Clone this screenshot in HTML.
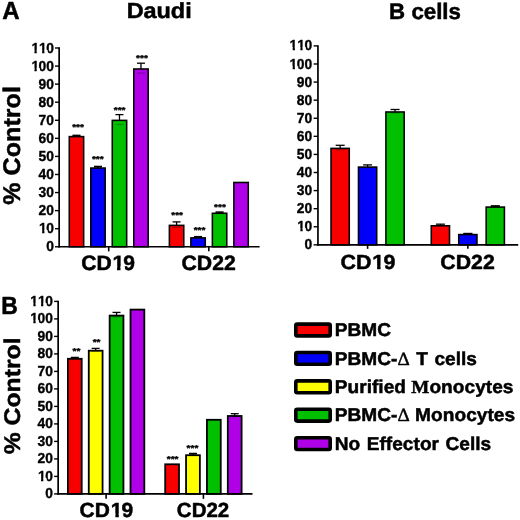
<!DOCTYPE html>
<html><head><meta charset="utf-8"><style>
html,body{margin:0;padding:0;background:#fff;}
svg{display:block;will-change:transform;}
text{font-family:"Liberation Sans",sans-serif;font-weight:bold;font-kerning:none;text-rendering:geometricPrecision;white-space:pre;}
</style></head><body>
<svg width="520" height="520" viewBox="0 0 520 520">
<rect width="520" height="520" fill="#fff"/>
<line x1="59.15" y1="47.30" x2="59.15" y2="247.62" stroke="#000" stroke-width="1.7"/>
<line x1="55.00" y1="246.77" x2="59.15" y2="246.77" stroke="#000" stroke-width="1.4"/>
<g transform="translate(46.267,251.000) scale(0.119375,0.125000)"><text x="0" y="0" font-size="116.000" stroke="#000" stroke-width="2.864" stroke-linejoin="round"><tspan>0</tspan></text>
</g>
<line x1="55.00" y1="228.70" x2="59.15" y2="228.70" stroke="#000" stroke-width="1.4"/>
<g transform="translate(38.565,233.000) scale(0.119375,0.125000)"><text x="0" y="0" font-size="116.000" stroke="#000" stroke-width="2.864" stroke-linejoin="round"><tspan dx="4.531">1</tspan><tspan dx="-4.531">0</tspan></text>
<rect x="1.21" y="-22.47" width="28.73" height="33.10" fill="#fff"/>
<rect x="49.19" y="-22.47" width="27.25" height="33.10" fill="#fff"/>
</g>
<line x1="55.00" y1="210.63" x2="59.15" y2="210.63" stroke="#000" stroke-width="1.4"/>
<g transform="translate(38.565,215.000) scale(0.119375,0.125000)"><text x="0" y="0" font-size="116.000" stroke="#000" stroke-width="2.864" stroke-linejoin="round"><tspan>20</tspan></text>
</g>
<line x1="55.00" y1="192.56" x2="59.15" y2="192.56" stroke="#000" stroke-width="1.4"/>
<g transform="translate(38.565,197.000) scale(0.119375,0.125000)"><text x="0" y="0" font-size="116.000" stroke="#000" stroke-width="2.864" stroke-linejoin="round"><tspan>30</tspan></text>
</g>
<line x1="55.00" y1="174.49" x2="59.15" y2="174.49" stroke="#000" stroke-width="1.4"/>
<g transform="translate(38.565,179.000) scale(0.119375,0.125000)"><text x="0" y="0" font-size="116.000" stroke="#000" stroke-width="2.864" stroke-linejoin="round"><tspan>40</tspan></text>
</g>
<line x1="55.00" y1="156.42" x2="59.15" y2="156.42" stroke="#000" stroke-width="1.4"/>
<g transform="translate(38.565,161.000) scale(0.119375,0.125000)"><text x="0" y="0" font-size="116.000" stroke="#000" stroke-width="2.864" stroke-linejoin="round"><tspan>50</tspan></text>
</g>
<line x1="55.00" y1="138.35" x2="59.15" y2="138.35" stroke="#000" stroke-width="1.4"/>
<g transform="translate(38.565,143.000) scale(0.119375,0.125000)"><text x="0" y="0" font-size="116.000" stroke="#000" stroke-width="2.864" stroke-linejoin="round"><tspan>60</tspan></text>
</g>
<line x1="55.00" y1="120.28" x2="59.15" y2="120.28" stroke="#000" stroke-width="1.4"/>
<g transform="translate(38.565,125.000) scale(0.119375,0.125000)"><text x="0" y="0" font-size="116.000" stroke="#000" stroke-width="2.864" stroke-linejoin="round"><tspan>70</tspan></text>
</g>
<line x1="55.00" y1="102.21" x2="59.15" y2="102.21" stroke="#000" stroke-width="1.4"/>
<g transform="translate(38.565,107.000) scale(0.119375,0.125000)"><text x="0" y="0" font-size="116.000" stroke="#000" stroke-width="2.864" stroke-linejoin="round"><tspan>80</tspan></text>
</g>
<line x1="55.00" y1="84.14" x2="59.15" y2="84.14" stroke="#000" stroke-width="1.4"/>
<g transform="translate(38.565,89.000) scale(0.119375,0.125000)"><text x="0" y="0" font-size="116.000" stroke="#000" stroke-width="2.864" stroke-linejoin="round"><tspan>90</tspan></text>
</g>
<line x1="55.00" y1="66.07" x2="59.15" y2="66.07" stroke="#000" stroke-width="1.4"/>
<g transform="translate(30.864,71.000) scale(0.119375,0.125000)"><text x="0" y="0" font-size="116.000" stroke="#000" stroke-width="2.864" stroke-linejoin="round"><tspan dx="4.531">1</tspan><tspan dx="-4.531">00</tspan></text>
<rect x="1.21" y="-22.47" width="28.73" height="33.10" fill="#fff"/>
<rect x="49.19" y="-22.47" width="27.25" height="33.10" fill="#fff"/>
</g>
<line x1="55.00" y1="48.00" x2="59.15" y2="48.00" stroke="#000" stroke-width="1.4"/>
<g transform="translate(30.864,53.000) scale(0.119375,0.125000)"><text x="0" y="0" font-size="116.000" stroke="#000" stroke-width="2.864" stroke-linejoin="round"><tspan dx="4.531">1</tspan><tspan>1</tspan><tspan dx="-4.531">0</tspan></text>
<rect x="1.21" y="-22.47" width="28.73" height="33.10" fill="#fff"/>
<rect x="49.19" y="-22.47" width="27.25" height="33.10" fill="#fff"/>
<rect x="65.72" y="-22.47" width="28.73" height="33.10" fill="#fff"/>
<rect x="113.71" y="-22.47" width="27.25" height="33.10" fill="#fff"/>
</g>
<line x1="58.30" y1="246.77" x2="259.60" y2="246.77" stroke="#000" stroke-width="1.7"/>
<line x1="76.47" y1="135.28" x2="76.47" y2="136.36" stroke="#000" stroke-width="1.3"/>
<line x1="72.47" y1="135.28" x2="80.47" y2="135.28" stroke="#000" stroke-width="1.3"/>
<line x1="72.47" y1="136.36" x2="80.47" y2="136.36" stroke="#000" stroke-width="1.3"/>
<rect x="69.28" y="136.60" width="14.39" height="110.17" fill="#f80000" stroke="#000" stroke-width="1.55"/>
<line x1="72.47" y1="136.36" x2="80.47" y2="136.36" stroke="#000" stroke-opacity="0.25" stroke-width="1.3"/>
<g transform="translate(72.223,130.000) scale(0.125000,0.106250)"><text x="0" y="0" font-size="80.000" stroke="#000" stroke-width="3.892" stroke-linejoin="round"><tspan>***</tspan></text>
</g>
<line x1="97.97" y1="166.36" x2="97.97" y2="168.17" stroke="#000" stroke-width="1.3"/>
<line x1="93.97" y1="166.36" x2="101.97" y2="166.36" stroke="#000" stroke-width="1.3"/>
<line x1="93.97" y1="168.17" x2="101.97" y2="168.17" stroke="#000" stroke-width="1.3"/>
<rect x="90.78" y="168.04" width="14.39" height="78.73" fill="#0000fa" stroke="#000" stroke-width="1.55"/>
<line x1="93.97" y1="168.17" x2="101.97" y2="168.17" stroke="#000" stroke-opacity="0.25" stroke-width="1.3"/>
<g transform="translate(91.923,162.000) scale(0.125000,0.106250)"><text x="0" y="0" font-size="80.000" stroke="#000" stroke-width="3.892" stroke-linejoin="round"><tspan>***</tspan></text>
</g>
<line x1="119.47" y1="114.61" x2="119.47" y2="124.58" stroke="#000" stroke-width="1.3"/>
<line x1="115.47" y1="114.61" x2="123.47" y2="114.61" stroke="#000" stroke-width="1.3"/>
<line x1="115.47" y1="124.58" x2="123.47" y2="124.58" stroke="#000" stroke-width="1.3"/>
<rect x="112.28" y="120.37" width="14.39" height="126.40" fill="#00c000" stroke="#000" stroke-width="1.55"/>
<line x1="115.47" y1="124.58" x2="123.47" y2="124.58" stroke="#000" stroke-opacity="0.25" stroke-width="1.3"/>
<g transform="translate(113.823,113.000) scale(0.125000,0.106250)"><text x="0" y="0" font-size="80.000" stroke="#000" stroke-width="3.892" stroke-linejoin="round"><tspan>***</tspan></text>
</g>
<line x1="140.97" y1="63.20" x2="140.97" y2="73.21" stroke="#000" stroke-width="1.3"/>
<line x1="136.97" y1="63.20" x2="144.97" y2="63.20" stroke="#000" stroke-width="1.3"/>
<line x1="136.97" y1="73.21" x2="144.97" y2="73.21" stroke="#000" stroke-width="1.3"/>
<rect x="133.78" y="68.98" width="14.39" height="177.79" fill="#af00e8" stroke="#000" stroke-width="1.55"/>
<line x1="136.97" y1="73.21" x2="144.97" y2="73.21" stroke="#000" stroke-opacity="0.25" stroke-width="1.3"/>
<g transform="translate(136.123,61.000) scale(0.125000,0.106250)"><text x="0" y="0" font-size="80.000" stroke="#000" stroke-width="3.892" stroke-linejoin="round"><tspan>***</tspan></text>
</g>
<line x1="108.72" y1="246.77" x2="108.72" y2="251.37" stroke="#000" stroke-width="1.6"/>
<g transform="translate(81.238,270.000) scale(0.125699,0.125000)"><text x="0" y="0" font-size="167.230" stroke="#000" stroke-width="3.989" stroke-linejoin="round"><tspan>CD</tspan><tspan dx="6.532">1</tspan><tspan dx="-6.532">9</tspan></text>
<rect x="247.41" y="-28.26" width="37.46" height="39.45" fill="#fff"/>
<rect x="312.28" y="-28.26" width="35.33" height="39.45" fill="#fff"/>
</g>
<line x1="176.57" y1="221.89" x2="176.57" y2="227.31" stroke="#000" stroke-width="1.3"/>
<line x1="172.57" y1="221.89" x2="180.57" y2="221.89" stroke="#000" stroke-width="1.3"/>
<line x1="172.57" y1="227.31" x2="180.57" y2="227.31" stroke="#000" stroke-width="1.3"/>
<rect x="169.38" y="225.37" width="14.39" height="21.40" fill="#f80000" stroke="#000" stroke-width="1.55"/>
<line x1="172.57" y1="227.31" x2="180.57" y2="227.31" stroke="#000" stroke-opacity="0.25" stroke-width="1.3"/>
<g transform="translate(171.323,218.000) scale(0.125000,0.106250)"><text x="0" y="0" font-size="80.000" stroke="#000" stroke-width="3.892" stroke-linejoin="round"><tspan>***</tspan></text>
</g>
<line x1="198.07" y1="236.56" x2="198.07" y2="237.64" stroke="#000" stroke-width="1.3"/>
<line x1="194.07" y1="236.56" x2="202.07" y2="236.56" stroke="#000" stroke-width="1.3"/>
<line x1="194.07" y1="237.64" x2="202.07" y2="237.64" stroke="#000" stroke-width="1.3"/>
<rect x="190.88" y="237.88" width="14.39" height="8.89" fill="#0000fa" stroke="#000" stroke-width="1.55"/>
<line x1="194.07" y1="237.64" x2="202.07" y2="237.64" stroke="#000" stroke-opacity="0.25" stroke-width="1.3"/>
<g transform="translate(193.723,233.000) scale(0.125000,0.106250)"><text x="0" y="0" font-size="80.000" stroke="#000" stroke-width="3.892" stroke-linejoin="round"><tspan>***</tspan></text>
</g>
<line x1="219.57" y1="211.95" x2="219.57" y2="213.03" stroke="#000" stroke-width="1.3"/>
<line x1="215.57" y1="211.95" x2="223.57" y2="211.95" stroke="#000" stroke-width="1.3"/>
<line x1="215.57" y1="213.03" x2="223.57" y2="213.03" stroke="#000" stroke-width="1.3"/>
<rect x="212.38" y="213.27" width="14.39" height="33.50" fill="#00c000" stroke="#000" stroke-width="1.55"/>
<line x1="215.57" y1="213.03" x2="223.57" y2="213.03" stroke="#000" stroke-opacity="0.25" stroke-width="1.3"/>
<g transform="translate(214.123,210.000) scale(0.125000,0.106250)"><text x="0" y="0" font-size="80.000" stroke="#000" stroke-width="3.892" stroke-linejoin="round"><tspan>***</tspan></text>
</g>
<rect x="233.88" y="182.47" width="14.39" height="64.30" fill="#af00e8" stroke="#000" stroke-width="1.55"/>
<line x1="208.82" y1="246.77" x2="208.82" y2="251.37" stroke="#000" stroke-width="1.6"/>
<g transform="translate(181.529,270.000) scale(0.127920,0.125000)"><text x="0" y="0" font-size="166.100" stroke="#000" stroke-width="3.954" stroke-linejoin="round"><tspan>CD22</tspan></text>
</g>
<line x1="317.95" y1="45.20" x2="317.95" y2="245.70" stroke="#000" stroke-width="1.7"/>
<line x1="313.60" y1="244.85" x2="317.95" y2="244.85" stroke="#000" stroke-width="1.4"/>
<g transform="translate(304.467,249.000) scale(0.119375,0.125000)"><text x="0" y="0" font-size="116.000" stroke="#000" stroke-width="2.864" stroke-linejoin="round"><tspan>0</tspan></text>
</g>
<line x1="313.60" y1="226.76" x2="317.95" y2="226.76" stroke="#000" stroke-width="1.4"/>
<g transform="translate(296.765,231.000) scale(0.119375,0.125000)"><text x="0" y="0" font-size="116.000" stroke="#000" stroke-width="2.864" stroke-linejoin="round"><tspan dx="4.531">1</tspan><tspan dx="-4.531">0</tspan></text>
<rect x="1.21" y="-22.47" width="28.73" height="33.10" fill="#fff"/>
<rect x="49.19" y="-22.47" width="27.25" height="33.10" fill="#fff"/>
</g>
<line x1="313.60" y1="208.68" x2="317.95" y2="208.68" stroke="#000" stroke-width="1.4"/>
<g transform="translate(296.765,213.000) scale(0.119375,0.125000)"><text x="0" y="0" font-size="116.000" stroke="#000" stroke-width="2.864" stroke-linejoin="round"><tspan>20</tspan></text>
</g>
<line x1="313.60" y1="190.59" x2="317.95" y2="190.59" stroke="#000" stroke-width="1.4"/>
<g transform="translate(296.765,195.000) scale(0.119375,0.125000)"><text x="0" y="0" font-size="116.000" stroke="#000" stroke-width="2.864" stroke-linejoin="round"><tspan>30</tspan></text>
</g>
<line x1="313.60" y1="172.51" x2="317.95" y2="172.51" stroke="#000" stroke-width="1.4"/>
<g transform="translate(296.765,177.000) scale(0.119375,0.125000)"><text x="0" y="0" font-size="116.000" stroke="#000" stroke-width="2.864" stroke-linejoin="round"><tspan>40</tspan></text>
</g>
<line x1="313.60" y1="154.42" x2="317.95" y2="154.42" stroke="#000" stroke-width="1.4"/>
<g transform="translate(296.765,159.000) scale(0.119375,0.125000)"><text x="0" y="0" font-size="116.000" stroke="#000" stroke-width="2.864" stroke-linejoin="round"><tspan>50</tspan></text>
</g>
<line x1="313.60" y1="136.33" x2="317.95" y2="136.33" stroke="#000" stroke-width="1.4"/>
<g transform="translate(296.765,141.000) scale(0.119375,0.125000)"><text x="0" y="0" font-size="116.000" stroke="#000" stroke-width="2.864" stroke-linejoin="round"><tspan>60</tspan></text>
</g>
<line x1="313.60" y1="118.25" x2="317.95" y2="118.25" stroke="#000" stroke-width="1.4"/>
<g transform="translate(296.765,123.000) scale(0.119375,0.125000)"><text x="0" y="0" font-size="116.000" stroke="#000" stroke-width="2.864" stroke-linejoin="round"><tspan>70</tspan></text>
</g>
<line x1="313.60" y1="100.16" x2="317.95" y2="100.16" stroke="#000" stroke-width="1.4"/>
<g transform="translate(296.765,105.000) scale(0.119375,0.125000)"><text x="0" y="0" font-size="116.000" stroke="#000" stroke-width="2.864" stroke-linejoin="round"><tspan>80</tspan></text>
</g>
<line x1="313.60" y1="82.08" x2="317.95" y2="82.08" stroke="#000" stroke-width="1.4"/>
<g transform="translate(296.765,87.000) scale(0.119375,0.125000)"><text x="0" y="0" font-size="116.000" stroke="#000" stroke-width="2.864" stroke-linejoin="round"><tspan>90</tspan></text>
</g>
<line x1="313.60" y1="63.99" x2="317.95" y2="63.99" stroke="#000" stroke-width="1.4"/>
<g transform="translate(289.064,69.000) scale(0.119375,0.125000)"><text x="0" y="0" font-size="116.000" stroke="#000" stroke-width="2.864" stroke-linejoin="round"><tspan dx="4.531">1</tspan><tspan dx="-4.531">00</tspan></text>
<rect x="1.21" y="-22.47" width="28.73" height="33.10" fill="#fff"/>
<rect x="49.19" y="-22.47" width="27.25" height="33.10" fill="#fff"/>
</g>
<line x1="313.60" y1="45.90" x2="317.95" y2="45.90" stroke="#000" stroke-width="1.4"/>
<g transform="translate(289.064,50.000) scale(0.119375,0.125000)"><text x="0" y="0" font-size="116.000" stroke="#000" stroke-width="2.864" stroke-linejoin="round"><tspan dx="4.531">1</tspan><tspan>1</tspan><tspan dx="-4.531">0</tspan></text>
<rect x="1.21" y="-22.47" width="28.73" height="33.10" fill="#fff"/>
<rect x="49.19" y="-22.47" width="27.25" height="33.10" fill="#fff"/>
<rect x="65.72" y="-22.47" width="28.73" height="33.10" fill="#fff"/>
<rect x="113.71" y="-22.47" width="27.25" height="33.10" fill="#fff"/>
</g>
<line x1="317.10" y1="244.85" x2="518.20" y2="244.85" stroke="#000" stroke-width="1.7"/>
<line x1="340.15" y1="145.30" x2="340.15" y2="149.90" stroke="#000" stroke-width="1.3"/>
<line x1="335.65" y1="145.30" x2="344.65" y2="145.30" stroke="#000" stroke-width="1.3"/>
<line x1="335.65" y1="149.90" x2="344.65" y2="149.90" stroke="#000" stroke-width="1.3"/>
<rect x="331.02" y="148.38" width="18.25" height="96.47" fill="#f80000" stroke="#000" stroke-width="1.55"/>
<line x1="335.65" y1="149.90" x2="344.65" y2="149.90" stroke="#000" stroke-opacity="0.25" stroke-width="1.3"/>
<line x1="367.60" y1="164.91" x2="367.60" y2="167.70" stroke="#000" stroke-width="1.3"/>
<line x1="363.10" y1="164.91" x2="372.10" y2="164.91" stroke="#000" stroke-width="1.3"/>
<line x1="363.10" y1="167.70" x2="372.10" y2="167.70" stroke="#000" stroke-width="1.3"/>
<rect x="358.47" y="167.08" width="18.25" height="77.77" fill="#0000fa" stroke="#000" stroke-width="1.55"/>
<line x1="363.10" y1="167.70" x2="372.10" y2="167.70" stroke="#000" stroke-opacity="0.25" stroke-width="1.3"/>
<line x1="395.05" y1="109.49" x2="395.05" y2="112.89" stroke="#000" stroke-width="1.3"/>
<line x1="390.55" y1="109.49" x2="399.55" y2="109.49" stroke="#000" stroke-width="1.3"/>
<line x1="390.55" y1="112.89" x2="399.55" y2="112.89" stroke="#000" stroke-width="1.3"/>
<rect x="385.92" y="111.97" width="18.25" height="132.88" fill="#00c000" stroke="#000" stroke-width="1.55"/>
<line x1="390.55" y1="112.89" x2="399.55" y2="112.89" stroke="#000" stroke-opacity="0.25" stroke-width="1.3"/>
<line x1="367.60" y1="244.85" x2="367.60" y2="248.85" stroke="#000" stroke-width="1.6"/>
<g transform="translate(340.520,269.000) scale(0.131918,0.125000)"><text x="0" y="0" font-size="162.710" stroke="#000" stroke-width="3.892" stroke-linejoin="round"><tspan>CD</tspan><tspan dx="6.356">1</tspan><tspan dx="-6.356">9</tspan></text>
<rect x="240.47" y="-27.75" width="36.69" height="38.90" fill="#fff"/>
<rect x="303.85" y="-27.75" width="34.62" height="38.90" fill="#fff"/>
</g>
<line x1="440.40" y1="224.18" x2="440.40" y2="225.81" stroke="#000" stroke-width="1.3"/>
<line x1="435.90" y1="224.18" x2="444.90" y2="224.18" stroke="#000" stroke-width="1.3"/>
<line x1="435.90" y1="225.81" x2="444.90" y2="225.81" stroke="#000" stroke-width="1.3"/>
<rect x="431.27" y="225.77" width="18.25" height="19.08" fill="#f80000" stroke="#000" stroke-width="1.55"/>
<line x1="435.90" y1="225.81" x2="444.90" y2="225.81" stroke="#000" stroke-opacity="0.25" stroke-width="1.3"/>
<line x1="467.85" y1="233.44" x2="467.85" y2="234.16" stroke="#000" stroke-width="1.3"/>
<line x1="463.35" y1="233.44" x2="472.35" y2="233.44" stroke="#000" stroke-width="1.3"/>
<line x1="463.35" y1="234.16" x2="472.35" y2="234.16" stroke="#000" stroke-width="1.3"/>
<rect x="458.72" y="234.57" width="18.25" height="10.28" fill="#0000fa" stroke="#000" stroke-width="1.55"/>
<line x1="463.35" y1="234.16" x2="472.35" y2="234.16" stroke="#000" stroke-opacity="0.25" stroke-width="1.3"/>
<line x1="495.30" y1="205.77" x2="495.30" y2="206.85" stroke="#000" stroke-width="1.3"/>
<line x1="490.80" y1="205.77" x2="499.80" y2="205.77" stroke="#000" stroke-width="1.3"/>
<line x1="490.80" y1="206.85" x2="499.80" y2="206.85" stroke="#000" stroke-width="1.3"/>
<rect x="486.17" y="207.08" width="18.25" height="37.77" fill="#00c000" stroke="#000" stroke-width="1.55"/>
<line x1="490.80" y1="206.85" x2="499.80" y2="206.85" stroke="#000" stroke-opacity="0.25" stroke-width="1.3"/>
<line x1="467.85" y1="244.85" x2="467.85" y2="248.85" stroke="#000" stroke-width="1.6"/>
<g transform="translate(440.224,269.000) scale(0.131330,0.125000)"><text x="0" y="0" font-size="162.710" stroke="#000" stroke-width="3.901" stroke-linejoin="round"><tspan>CD22</tspan></text>
</g>
<line x1="58.15" y1="300.70" x2="58.15" y2="494.75" stroke="#000" stroke-width="1.7"/>
<line x1="54.10" y1="493.90" x2="58.15" y2="493.90" stroke="#000" stroke-width="1.4"/>
<g transform="translate(45.167,498.000) scale(0.119375,0.125000)"><text x="0" y="0" font-size="116.000" stroke="#000" stroke-width="2.864" stroke-linejoin="round"><tspan>0</tspan></text>
</g>
<line x1="54.10" y1="476.40" x2="58.15" y2="476.40" stroke="#000" stroke-width="1.4"/>
<g transform="translate(37.465,481.000) scale(0.119375,0.125000)"><text x="0" y="0" font-size="116.000" stroke="#000" stroke-width="2.864" stroke-linejoin="round"><tspan dx="4.531">1</tspan><tspan dx="-4.531">0</tspan></text>
<rect x="1.21" y="-22.47" width="28.73" height="33.10" fill="#fff"/>
<rect x="49.19" y="-22.47" width="27.25" height="33.10" fill="#fff"/>
</g>
<line x1="54.10" y1="458.90" x2="58.15" y2="458.90" stroke="#000" stroke-width="1.4"/>
<g transform="translate(37.465,463.000) scale(0.119375,0.125000)"><text x="0" y="0" font-size="116.000" stroke="#000" stroke-width="2.864" stroke-linejoin="round"><tspan>20</tspan></text>
</g>
<line x1="54.10" y1="441.40" x2="58.15" y2="441.40" stroke="#000" stroke-width="1.4"/>
<g transform="translate(37.465,446.000) scale(0.119375,0.125000)"><text x="0" y="0" font-size="116.000" stroke="#000" stroke-width="2.864" stroke-linejoin="round"><tspan>30</tspan></text>
</g>
<line x1="54.10" y1="423.90" x2="58.15" y2="423.90" stroke="#000" stroke-width="1.4"/>
<g transform="translate(37.465,428.000) scale(0.119375,0.125000)"><text x="0" y="0" font-size="116.000" stroke="#000" stroke-width="2.864" stroke-linejoin="round"><tspan>40</tspan></text>
</g>
<line x1="54.10" y1="406.40" x2="58.15" y2="406.40" stroke="#000" stroke-width="1.4"/>
<g transform="translate(37.465,411.000) scale(0.119375,0.125000)"><text x="0" y="0" font-size="116.000" stroke="#000" stroke-width="2.864" stroke-linejoin="round"><tspan>50</tspan></text>
</g>
<line x1="54.10" y1="388.90" x2="58.15" y2="388.90" stroke="#000" stroke-width="1.4"/>
<g transform="translate(37.465,393.000) scale(0.119375,0.125000)"><text x="0" y="0" font-size="116.000" stroke="#000" stroke-width="2.864" stroke-linejoin="round"><tspan>60</tspan></text>
</g>
<line x1="54.10" y1="371.40" x2="58.15" y2="371.40" stroke="#000" stroke-width="1.4"/>
<g transform="translate(37.465,376.000) scale(0.119375,0.125000)"><text x="0" y="0" font-size="116.000" stroke="#000" stroke-width="2.864" stroke-linejoin="round"><tspan>70</tspan></text>
</g>
<line x1="54.10" y1="353.90" x2="58.15" y2="353.90" stroke="#000" stroke-width="1.4"/>
<g transform="translate(37.465,358.000) scale(0.119375,0.125000)"><text x="0" y="0" font-size="116.000" stroke="#000" stroke-width="2.864" stroke-linejoin="round"><tspan>80</tspan></text>
</g>
<line x1="54.10" y1="336.40" x2="58.15" y2="336.40" stroke="#000" stroke-width="1.4"/>
<g transform="translate(37.465,341.000) scale(0.119375,0.125000)"><text x="0" y="0" font-size="116.000" stroke="#000" stroke-width="2.864" stroke-linejoin="round"><tspan>90</tspan></text>
</g>
<line x1="54.10" y1="318.90" x2="58.15" y2="318.90" stroke="#000" stroke-width="1.4"/>
<g transform="translate(29.764,323.000) scale(0.119375,0.125000)"><text x="0" y="0" font-size="116.000" stroke="#000" stroke-width="2.864" stroke-linejoin="round"><tspan dx="4.531">1</tspan><tspan dx="-4.531">00</tspan></text>
<rect x="1.21" y="-22.47" width="28.73" height="33.10" fill="#fff"/>
<rect x="49.19" y="-22.47" width="27.25" height="33.10" fill="#fff"/>
</g>
<line x1="54.10" y1="301.40" x2="58.15" y2="301.40" stroke="#000" stroke-width="1.4"/>
<g transform="translate(29.764,306.000) scale(0.119375,0.125000)"><text x="0" y="0" font-size="116.000" stroke="#000" stroke-width="2.864" stroke-linejoin="round"><tspan dx="4.531">1</tspan><tspan>1</tspan><tspan dx="-4.531">0</tspan></text>
<rect x="1.21" y="-22.47" width="28.73" height="33.10" fill="#fff"/>
<rect x="49.19" y="-22.47" width="27.25" height="33.10" fill="#fff"/>
<rect x="65.72" y="-22.47" width="28.73" height="33.10" fill="#fff"/>
<rect x="113.71" y="-22.47" width="27.25" height="33.10" fill="#fff"/>
</g>
<line x1="57.30" y1="493.90" x2="252.50" y2="493.90" stroke="#000" stroke-width="1.7"/>
<line x1="74.80" y1="357.38" x2="74.80" y2="358.43" stroke="#000" stroke-width="1.3"/>
<line x1="70.80" y1="357.38" x2="78.80" y2="357.38" stroke="#000" stroke-width="1.3"/>
<line x1="70.80" y1="358.43" x2="78.80" y2="358.43" stroke="#000" stroke-width="1.3"/>
<rect x="67.90" y="358.81" width="13.80" height="135.09" fill="#f80000" stroke="#000" stroke-width="1.8"/>
<line x1="70.80" y1="358.43" x2="78.80" y2="358.43" stroke="#000" stroke-opacity="0.25" stroke-width="1.3"/>
<g transform="translate(72.599,354.000) scale(0.125000,0.106250)"><text x="0" y="0" font-size="80.000" stroke="#000" stroke-width="3.892" stroke-linejoin="round"><tspan>**</tspan></text>
</g>
<line x1="95.67" y1="348.40" x2="95.67" y2="351.20" stroke="#000" stroke-width="1.3"/>
<line x1="91.67" y1="348.40" x2="99.67" y2="348.40" stroke="#000" stroke-width="1.3"/>
<line x1="91.67" y1="351.20" x2="99.67" y2="351.20" stroke="#000" stroke-width="1.3"/>
<rect x="88.77" y="350.70" width="13.80" height="143.19" fill="#ffff00" stroke="#000" stroke-width="1.8"/>
<line x1="91.67" y1="351.20" x2="99.67" y2="351.20" stroke="#000" stroke-opacity="0.25" stroke-width="1.3"/>
<g transform="translate(92.669,345.000) scale(0.125000,0.106250)"><text x="0" y="0" font-size="80.000" stroke="#000" stroke-width="3.892" stroke-linejoin="round"><tspan>**</tspan></text>
</g>
<line x1="116.54" y1="312.41" x2="116.54" y2="316.99" stroke="#000" stroke-width="1.3"/>
<line x1="112.54" y1="312.41" x2="120.54" y2="312.41" stroke="#000" stroke-width="1.3"/>
<line x1="112.54" y1="316.99" x2="120.54" y2="316.99" stroke="#000" stroke-width="1.3"/>
<rect x="109.64" y="315.60" width="13.80" height="178.30" fill="#00c000" stroke="#000" stroke-width="1.8"/>
<line x1="112.54" y1="316.99" x2="120.54" y2="316.99" stroke="#000" stroke-opacity="0.25" stroke-width="1.3"/>
<rect x="130.51" y="309.60" width="13.80" height="184.30" fill="#af00e8" stroke="#000" stroke-width="1.8"/>
<line x1="106.10" y1="493.90" x2="106.10" y2="498.80" stroke="#000" stroke-width="1.6"/>
<g transform="translate(79.538,517.000) scale(0.128300,0.125000)"><text x="0" y="0" font-size="163.840" stroke="#000" stroke-width="3.948" stroke-linejoin="round"><tspan>CD</tspan><tspan dx="6.400">1</tspan><tspan dx="-6.400">9</tspan></text>
<rect x="242.19" y="-27.89" width="36.88" height="39.07" fill="#fff"/>
<rect x="305.97" y="-27.89" width="34.80" height="39.07" fill="#fff"/>
</g>
<rect x="165.20" y="464.30" width="13.80" height="29.60" fill="#f80000" stroke="#000" stroke-width="1.8"/>
<g transform="translate(166.803,462.000) scale(0.125000,0.106250)"><text x="0" y="0" font-size="80.000" stroke="#000" stroke-width="3.892" stroke-linejoin="round"><tspan>***</tspan></text>
</g>
<line x1="192.97" y1="453.40" x2="192.97" y2="455.19" stroke="#000" stroke-width="1.3"/>
<line x1="188.97" y1="453.40" x2="196.97" y2="453.40" stroke="#000" stroke-width="1.3"/>
<line x1="188.97" y1="455.19" x2="196.97" y2="455.19" stroke="#000" stroke-width="1.3"/>
<rect x="186.07" y="455.20" width="13.80" height="38.70" fill="#ffff00" stroke="#000" stroke-width="1.8"/>
<line x1="188.97" y1="455.19" x2="196.97" y2="455.19" stroke="#000" stroke-opacity="0.25" stroke-width="1.3"/>
<g transform="translate(186.623,451.000) scale(0.125000,0.106250)"><text x="0" y="0" font-size="80.000" stroke="#000" stroke-width="3.892" stroke-linejoin="round"><tspan>***</tspan></text>
</g>
<rect x="206.94" y="419.79" width="13.80" height="74.10" fill="#00c000" stroke="#000" stroke-width="1.8"/>
<line x1="234.71" y1="413.70" x2="234.71" y2="416.50" stroke="#000" stroke-width="1.3"/>
<line x1="230.71" y1="413.70" x2="238.71" y2="413.70" stroke="#000" stroke-width="1.3"/>
<line x1="230.71" y1="416.50" x2="238.71" y2="416.50" stroke="#000" stroke-width="1.3"/>
<rect x="227.81" y="416.00" width="13.80" height="77.90" fill="#af00e8" stroke="#000" stroke-width="1.8"/>
<line x1="230.71" y1="416.50" x2="238.71" y2="416.50" stroke="#000" stroke-opacity="0.25" stroke-width="1.3"/>
<line x1="203.41" y1="493.90" x2="203.41" y2="498.80" stroke="#000" stroke-width="1.6"/>
<g transform="translate(176.860,517.000) scale(0.125000,0.125000)"><text x="0" y="0" font-size="163.840" stroke="#000" stroke-width="4.000" stroke-linejoin="round"><tspan>CD22</tspan></text>
</g>
<g transform="translate(2.302,19.000) scale(0.120688,0.125000)"><text x="0" y="0" font-size="198.841" stroke="#000" stroke-width="4.070" stroke-linejoin="round"><tspan>A</tspan></text>
</g>
<g transform="translate(126.634,18.000) scale(0.134298,0.125000)"><text x="0" y="0" font-size="174.298" stroke="#000" stroke-width="3.857" stroke-linejoin="round"><tspan>Daudi</tspan></text>
</g>
<g transform="translate(389.110,19.000) scale(0.123902,0.125000)"><text x="0" y="0" font-size="179.745" stroke="#000" stroke-width="4.018" stroke-linejoin="round"><tspan>B cells</tspan></text>
</g>
<g transform="translate(1.164,314.000) scale(0.115449,0.125000)"><text x="0" y="0" font-size="198.841" stroke="#000" stroke-width="4.159" stroke-linejoin="round"><tspan>B</tspan></text>
</g>
<g transform="translate(19.865,204.726) rotate(-90) scale(0.130274,0.125000)"><text x="0" y="0" font-size="192.817" stroke="#000" stroke-width="3.917" stroke-linejoin="round"><tspan>% Control</tspan></text>
</g>
<g transform="translate(19.578,454.316) rotate(-90) scale(0.136055,0.125000)"><text x="0" y="0" font-size="181.923" stroke="#000" stroke-width="3.831" stroke-linejoin="round"><tspan>% Control</tspan></text>
</g>
<rect x="295.80" y="324.10" width="34.40" height="11.80" fill="#f80000" rx="1.5" stroke="#000" stroke-width="3.6"/>
<g transform="translate(334.719,336.000) scale(0.129375,0.125000)"><text x="0" y="0" font-size="148.000" stroke="#000" stroke-width="3.931" stroke-linejoin="round"><tspan>PBMC</tspan></text>
</g>
<rect x="295.80" y="352.50" width="34.40" height="11.80" fill="#0000fa" rx="1.5" stroke="#000" stroke-width="3.6"/>
<g transform="translate(334.719,365.000) scale(0.129375,0.125000)"><text x="0" y="0" font-size="148.000" stroke="#000" stroke-width="3.931" stroke-linejoin="round"><tspan>PBMC-</tspan><tspan font-family="Liberation Serif" font-weight="normal">Δ</tspan><tspan> </tspan><tspan dx="8.800">T </tspan><tspan dx="8.800">cells</tspan></text>
</g>
<rect x="295.80" y="380.90" width="34.40" height="11.80" fill="#ffff00" rx="1.5" stroke="#000" stroke-width="3.6"/>
<g transform="translate(334.719,393.000) scale(0.129375,0.125000)"><text x="0" y="0" font-size="148.000" stroke="#000" stroke-width="3.931" stroke-linejoin="round"><tspan>Purified </tspan><tspan font-family="Liberation Serif" font-weight="bold">M</tspan><tspan>onocytes</tspan></text>
</g>
<rect x="295.80" y="409.30" width="34.40" height="11.80" fill="#00c000" rx="1.5" stroke="#000" stroke-width="3.6"/>
<g transform="translate(334.719,421.000) scale(0.129375,0.125000)"><text x="0" y="0" font-size="148.000" stroke="#000" stroke-width="3.931" stroke-linejoin="round"><tspan>PBMC-</tspan><tspan font-family="Liberation Serif" font-weight="normal">Δ</tspan><tspan> Monocytes</tspan></text>
</g>
<rect x="295.80" y="437.70" width="34.40" height="11.80" fill="#af00e8" rx="1.5" stroke="#000" stroke-width="3.6"/>
<g transform="translate(334.719,450.000) scale(0.129375,0.125000)"><text x="0" y="0" font-size="148.000" stroke="#000" stroke-width="3.931" stroke-linejoin="round"><tspan>No </tspan><tspan dx="8.800">Effector </tspan><tspan dx="8.800">Cells</tspan></text>
</g>
</svg>
</body></html>
